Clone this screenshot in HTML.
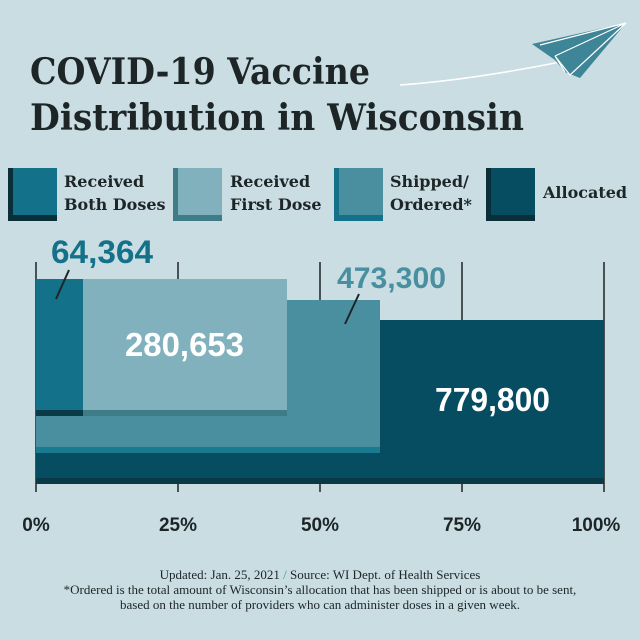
<!DOCTYPE html>
<html><head><meta charset="utf-8"><style>
html,body{margin:0;padding:0;background:#c9dde3;}
svg{display:block}
.t{font-family:"DejaVu Serif","Liberation Serif",serif;font-weight:bold;fill:#1d2526}
.l{font-family:"DejaVu Serif","Liberation Serif",serif;font-weight:bold;fill:#1d2526;font-size:16px}
.n{font-family:"Liberation Sans Narrow","Liberation Sans",sans-serif;font-weight:bold}
.a{font-family:"Liberation Sans",sans-serif;font-weight:bold;font-size:19px;fill:#1d2526}
.f{font-family:"Liberation Serif",serif;font-size:13px;fill:#1d2526}
</style></head><body>
<svg width="640" height="640" viewBox="0 0 640 640">
<rect width="640" height="640" fill="#c9dde3"/>
<text class="t" x="30" y="84" font-size="36" textLength="340" lengthAdjust="spacingAndGlyphs">COVID-19 Vaccine</text>
<text class="t" x="30" y="130" font-size="36" textLength="494" lengthAdjust="spacingAndGlyphs">Distribution in Wisconsin</text>
<path d="M400 85 Q470 80 560 62" fill="none" stroke="#fff" stroke-width="1.5"/>
<path d="M532 44 L626 23 L580 78 L565 72 L555 60 Z" fill="#3d8597"/>
<path d="M540 45 L626 23 L555 56 M555 56 L570 75 L626 23 M555 56 L565 72" fill="none" stroke="#fff" stroke-width="1.2"/>
<g>
<rect x="8" y="168" width="49" height="53" fill="#0a2f38"/><rect x="13" y="168" width="44" height="47" fill="#14718a"/>
<text class="l" x="64" y="187">Received</text><text class="l" x="64" y="210">Both Doses</text>
<rect x="173" y="168" width="49" height="53" fill="#3e7d88"/><rect x="178" y="168" width="44" height="47" fill="#82b1be"/>
<text class="l" x="230" y="187">Received</text><text class="l" x="230" y="210">First Dose</text>
<rect x="334" y="168" width="49" height="53" fill="#14718a"/><rect x="339" y="168" width="44" height="47" fill="#4a8fa0"/>
<text class="l" x="390" y="187">Shipped/</text><text class="l" x="390" y="210">Ordered*</text>
<rect x="486" y="168" width="49" height="53" fill="#0a2f38"/><rect x="491" y="168" width="44" height="47" fill="#064d61"/>
<text class="l" x="543" y="198">Allocated</text>
</g>
<g stroke="#1d2526" stroke-width="1.5">
<line x1="36" y1="262" x2="36" y2="492"/><line x1="178" y1="262" x2="178" y2="492"/>
<line x1="320" y1="262" x2="320" y2="492"/><line x1="462" y1="262" x2="462" y2="492"/>
<line x1="604" y1="262" x2="604" y2="492"/>
</g>
<rect x="36" y="320" width="568" height="164" fill="#0a3a48"/>
<rect x="36" y="320" width="568" height="158" fill="#064d61"/>
<rect x="36" y="300" width="344" height="153" fill="#1a7a90"/>
<rect x="36" y="300" width="344" height="147" fill="#4a8fa0"/>
<rect x="36" y="279" width="251" height="137" fill="#3e7d88"/>
<rect x="83" y="279" width="204" height="131" fill="#82b1be"/>
<rect x="36" y="279" width="47" height="137" fill="#0a3a48"/>
<rect x="36" y="279" width="47" height="131" fill="#14718a"/>
<text class="n" x="51" y="263" font-size="32" fill="#14718a" textLength="102" lengthAdjust="spacingAndGlyphs">64,364</text>
<line x1="69" y1="270" x2="56" y2="299" stroke="#1d2526" stroke-width="2"/>
<text class="n" x="337" y="288" font-size="30" fill="#4a8fa0" textLength="109" lengthAdjust="spacingAndGlyphs">473,300</text>
<line x1="359" y1="294" x2="345" y2="324" stroke="#1d2526" stroke-width="2"/>
<text class="n" x="125" y="356" font-size="33" fill="#fff" textLength="119" lengthAdjust="spacingAndGlyphs">280,653</text>
<text class="n" x="435" y="411" font-size="33" fill="#fff" textLength="115" lengthAdjust="spacingAndGlyphs">779,800</text>
<text class="a" x="36" y="531" text-anchor="middle">0%</text>
<text class="a" x="178" y="531" text-anchor="middle">25%</text>
<text class="a" x="320" y="531" text-anchor="middle">50%</text>
<text class="a" x="462" y="531" text-anchor="middle">75%</text>
<text class="a" x="604" y="531" text-anchor="middle" dx="-8">100%</text>
<text class="f" x="320" y="579" text-anchor="middle">Updated: Jan. 25, 2021 <tspan fill="#4a8fa0">/</tspan> Source: WI Dept. of Health Services</text>
<text class="f" x="320" y="594" text-anchor="middle">*Ordered is the total amount of Wisconsin’s allocation that has been shipped or is about to be sent,</text>
<text class="f" x="320" y="609" text-anchor="middle">based on the number of providers who can administer doses in a given week.</text>
</svg>
</body></html>
